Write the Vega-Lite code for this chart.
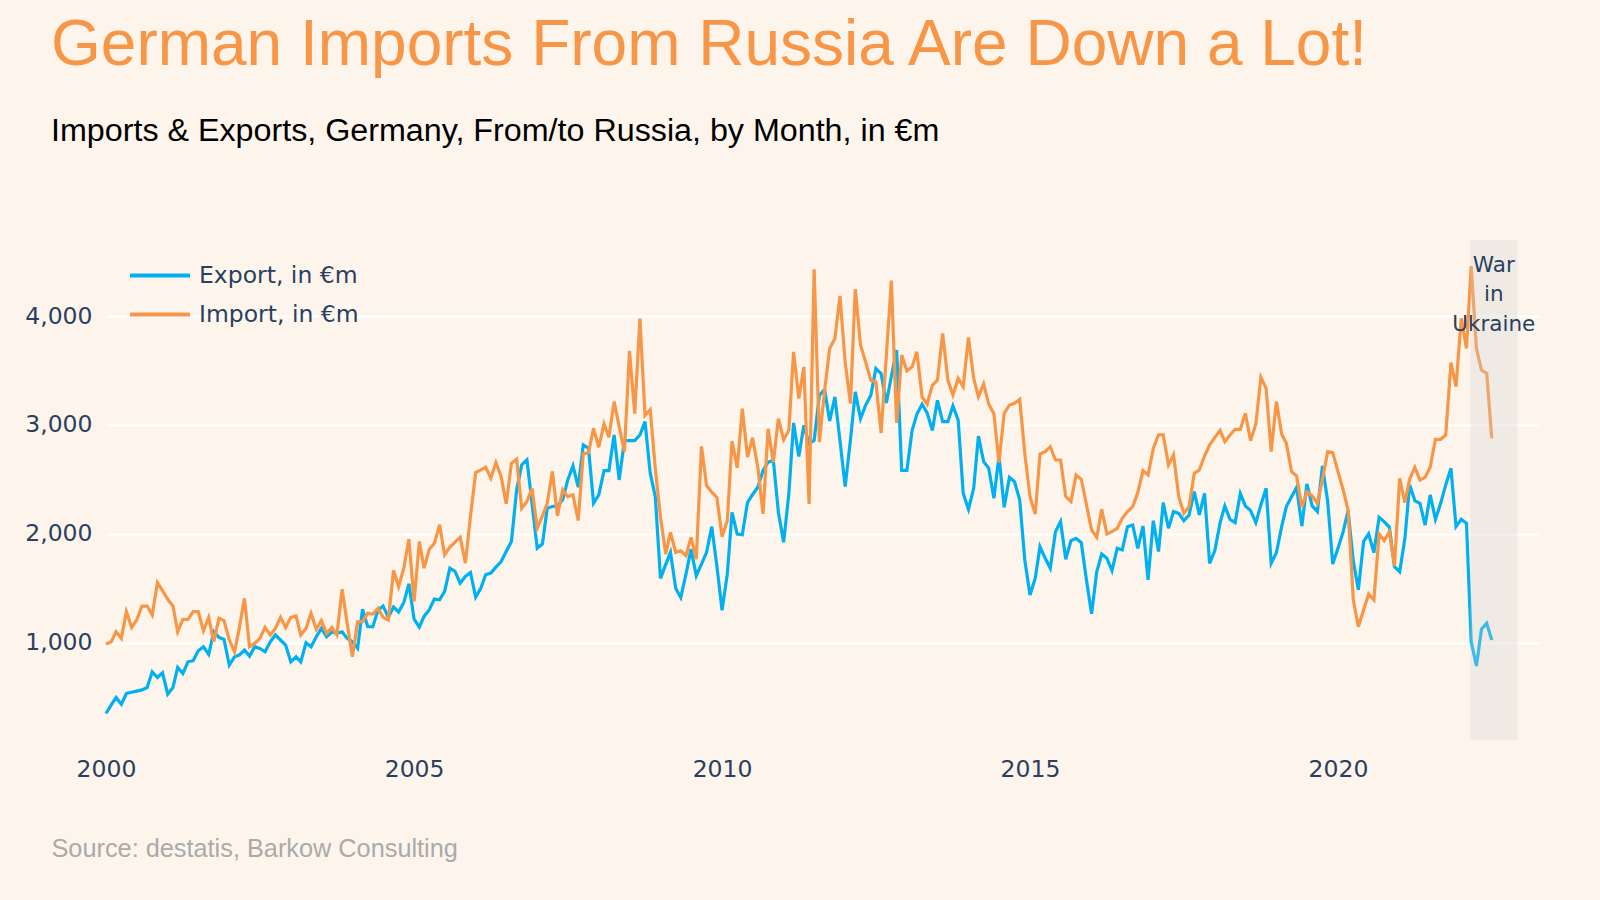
{
"$schema":"https://vega.github.io/schema/vega-lite/v6.json",
"width":1434,"height":500,
"autosize":{"type":"none"},
"padding":{"left":106,"top":240,"right":60,"bottom":160},
"background":"#FDF5EC",
"title":{"text":"German Imports From Russia Are Down a Lot!","subtitle":"Imports & Exports, Germany, From/to Russia, by Month, in €m","anchor":"start","frame":"group","dx":-55,"offset":93,"font":"Liberation Sans","fontSize":64,"fontWeight":"normal","color":"#F79646","subtitleFont":"Liberation Sans","subtitleFontSize":32.25,"subtitleColor":"#000000","subtitlePadding":38},
"config":{"view":{"stroke":null},
 "axis":{"domain":false,"ticks":false,"labelFont":"DejaVu Sans","labelFontSize":23.5,"labelColor":"#2a3f5f","gridColor":"#FFFFFF","gridWidth":2},
 "legend":{"padding":0}},
"datasets":{"trade":[
{"month":"2000-01-01","Export":350,"Import":988},{"month":"2000-02-01","Export":430,"Import":1009},{"month":"2000-03-01","Export":497,"Import":1101},{"month":"2000-04-01","Export":436,"Import":1040},{"month":"2000-05-01","Export":534,"Import":1285},{"month":"2000-06-01","Export":545,"Import":1141},{"month":"2000-07-01","Export":556,"Import":1209},{"month":"2000-08-01","Export":567,"Import":1337},{"month":"2000-09-01","Export":589,"Import":1337},{"month":"2000-10-01","Export":733,"Import":1255},{"month":"2000-11-01","Export":681,"Import":1552},{"month":"2000-12-01","Export":724,"Import":1479},
{"month":"2001-01-01","Export":528,"Import":1399},{"month":"2001-02-01","Export":589,"Import":1337},{"month":"2001-03-01","Export":773,"Import":1101},{"month":"2001-04-01","Export":718,"Import":1215},{"month":"2001-05-01","Export":825,"Import":1215},{"month":"2001-06-01","Export":835,"Import":1285},{"month":"2001-07-01","Export":927,"Import":1285},{"month":"2001-08-01","Export":963,"Import":1110},{"month":"2001-09-01","Export":893,"Import":1233},{"month":"2001-10-01","Export":1101,"Import":1009},{"month":"2001-11-01","Export":1049,"Import":1224},{"month":"2001-12-01","Export":1030,"Import":1203},
{"month":"2002-01-01","Export":795,"Import":1025},{"month":"2002-02-01","Export":871,"Import":917},{"month":"2002-03-01","Export":887,"Import":1132},{"month":"2002-04-01","Export":933,"Import":1408},{"month":"2002-05-01","Export":877,"Import":963},{"month":"2002-06-01","Export":963,"Import":994},{"month":"2002-07-01","Export":948,"Import":1040},{"month":"2002-08-01","Export":917,"Import":1141},{"month":"2002-09-01","Export":1009,"Import":1071},{"month":"2002-10-01","Export":1071,"Import":1132},{"month":"2002-11-01","Export":1025,"Import":1233},{"month":"2002-12-01","Export":979,"Import":1141},
{"month":"2003-01-01","Export":825,"Import":1233},{"month":"2003-02-01","Export":871,"Import":1245},{"month":"2003-03-01","Export":825,"Import":1071},{"month":"2003-04-01","Export":1000,"Import":1132},{"month":"2003-05-01","Export":963,"Import":1270},{"month":"2003-06-01","Export":1055,"Import":1123},{"month":"2003-07-01","Export":1132,"Import":1203},{"month":"2003-08-01","Export":1055,"Import":1086},{"month":"2003-09-01","Export":1101,"Import":1141},{"month":"2003-10-01","Export":1086,"Import":1071},{"month":"2003-11-01","Export":1101,"Import":1491},{"month":"2003-12-01","Export":1040,"Import":1178},
{"month":"2004-01-01","Export":1010,"Import":871},{"month":"2004-02-01","Export":950,"Import":1193},{"month":"2004-03-01","Export":1307,"Import":1193},{"month":"2004-04-01","Export":1147,"Import":1270},{"month":"2004-05-01","Export":1147,"Import":1264},{"month":"2004-06-01","Export":1300,"Import":1316},{"month":"2004-07-01","Export":1338,"Import":1233},{"month":"2004-08-01","Export":1233,"Import":1209},{"month":"2004-09-01","Export":1329,"Import":1663},{"month":"2004-10-01","Export":1282,"Import":1515},{"month":"2004-11-01","Export":1370,"Import":1685},{"month":"2004-12-01","Export":1541,"Import":1951},
{"month":"2005-01-01","Export":1217,"Import":1379},{"month":"2005-02-01","Export":1144,"Import":1930},{"month":"2005-03-01","Export":1242,"Import":1685},{"month":"2005-04-01","Export":1303,"Import":1859},{"month":"2005-05-01","Export":1401,"Import":1914},{"month":"2005-06-01","Export":1395,"Import":2083},{"month":"2005-07-01","Export":1471,"Import":1807},{"month":"2005-08-01","Export":1685,"Import":1878},{"month":"2005-09-01","Export":1654,"Import":1924},{"month":"2005-10-01","Export":1547,"Import":1969},{"month":"2005-11-01","Export":1609,"Import":1731},{"month":"2005-12-01","Export":1645,"Import":2159},
{"month":"2006-01-01","Export":1419,"Import":2563},{"month":"2006-02-01","Export":1502,"Import":2587},{"month":"2006-03-01","Export":1624,"Import":2612},{"month":"2006-04-01","Export":1639,"Import":2511},{"month":"2006-05-01","Export":1694,"Import":2654},{"month":"2006-06-01","Export":1746,"Import":2526},{"month":"2006-07-01","Export":1838,"Import":2275},{"month":"2006-08-01","Export":1930,"Import":2648},{"month":"2006-09-01","Export":2404,"Import":2685},{"month":"2006-10-01","Export":2633,"Import":2235},{"month":"2006-11-01","Export":2679,"Import":2297},{"month":"2006-12-01","Export":2281,"Import":2419},
{"month":"2007-01-01","Export":1869,"Import":2052},{"month":"2007-02-01","Export":1908,"Import":2165},{"month":"2007-03-01","Export":2235,"Import":2281},{"month":"2007-04-01","Export":2251,"Import":2572},{"month":"2007-05-01","Export":2257,"Import":2165},{"month":"2007-06-01","Export":2312,"Import":2404},{"month":"2007-07-01","Export":2495,"Import":2342},{"month":"2007-08-01","Export":2624,"Import":2358},{"month":"2007-09-01","Export":2428,"Import":2122},{"month":"2007-10-01","Export":2816,"Import":2734},{"month":"2007-11-01","Export":2786,"Import":2746},{"month":"2007-12-01","Export":2281,"Import":2969},
{"month":"2008-01-01","Export":2358,"Import":2795},{"month":"2008-02-01","Export":2581,"Import":3009},{"month":"2008-03-01","Export":2581,"Import":2887},{"month":"2008-04-01","Export":2908,"Import":3214},{"month":"2008-05-01","Export":2495,"Import":2985},{"month":"2008-06-01","Export":2856,"Import":2755},{"month":"2008-07-01","Export":2856,"Import":3679},{"month":"2008-08-01","Export":2856,"Import":3103},{"month":"2008-09-01","Export":2908,"Import":3976},{"month":"2008-10-01","Export":3030,"Import":3088},{"month":"2008-11-01","Export":2557,"Import":3140},{"month":"2008-12-01","Export":2342,"Import":2600},
{"month":"2009-01-01","Export":1590,"Import":2152},{"month":"2009-02-01","Export":1720,"Import":1814},{"month":"2009-03-01","Export":1830,"Import":2014},{"month":"2009-04-01","Export":1500,"Import":1830},{"month":"2009-05-01","Export":1415,"Import":1845},{"month":"2009-06-01","Export":1630,"Import":1799},{"month":"2009-07-01","Export":1860,"Import":1968},{"month":"2009-08-01","Export":1615,"Import":1768},{"month":"2009-09-01","Export":1722,"Import":2803},{"month":"2009-10-01","Export":1830,"Import":2443},{"month":"2009-11-01","Export":2066,"Import":2382},{"month":"2009-12-01","Export":1707,"Import":2336},
{"month":"2010-01-01","Export":1298,"Import":1974},{"month":"2010-02-01","Export":1630,"Import":2121},{"month":"2010-03-01","Export":2198,"Import":2852},{"month":"2010-04-01","Export":1998,"Import":2606},{"month":"2010-05-01","Export":1992,"Import":3150},{"month":"2010-06-01","Export":2290,"Import":2704},{"month":"2010-07-01","Export":2361,"Import":2883},{"month":"2010-08-01","Export":2428,"Import":2612},{"month":"2010-09-01","Export":2582,"Import":2183},{"month":"2010-10-01","Export":2658,"Import":2965},{"month":"2010-11-01","Export":2674,"Import":2658},{"month":"2010-12-01","Export":2198,"Import":3057},
{"month":"2011-01-01","Export":1922,"Import":2864},{"month":"2011-02-01","Export":2367,"Import":2950},{"month":"2011-03-01","Export":3018,"Import":3671},{"month":"2011-04-01","Export":2711,"Import":3242},{"month":"2011-05-01","Export":2996,"Import":3533},{"month":"2011-06-01","Export":2827,"Import":2275},{"month":"2011-07-01","Export":2858,"Import":4430},{"month":"2011-08-01","Export":3272,"Import":2843},{"month":"2011-09-01","Export":3325,"Import":3318},{"month":"2011-10-01","Export":3036,"Import":3702},{"month":"2011-11-01","Export":3257,"Import":3794},{"month":"2011-12-01","Export":2858,"Import":4184},
{"month":"2012-01-01","Export":2434,"Import":3579},{"month":"2012-02-01","Export":2858,"Import":3196},{"month":"2012-03-01","Export":3303,"Import":4246},{"month":"2012-04-01","Export":3058,"Import":3733},{"month":"2012-05-01","Export":3180,"Import":3579},{"month":"2012-06-01","Export":3272,"Import":3411},{"month":"2012-07-01","Export":3518,"Import":3395},{"month":"2012-08-01","Export":3472,"Import":2926},{"month":"2012-09-01","Export":3202,"Import":3632},{"month":"2012-10-01","Export":3447,"Import":4325},{"month":"2012-11-01","Export":3687,"Import":3018},{"month":"2012-12-01","Export":2582,"Import":3641},
{"month":"2013-01-01","Export":2582,"Import":3497},{"month":"2013-02-01","Export":2950,"Import":3533},{"month":"2013-03-01","Export":3097,"Import":3671},{"month":"2013-04-01","Export":3190,"Import":3257},{"month":"2013-05-01","Export":3110,"Import":3190},{"month":"2013-06-01","Export":2950,"Import":3364},{"month":"2013-07-01","Export":3226,"Import":3411},{"month":"2013-08-01","Export":3030,"Import":3841},{"month":"2013-09-01","Export":3030,"Import":3412},{"month":"2013-10-01","Export":3174,"Import":3275},{"month":"2013-11-01","Export":3045,"Import":3428},{"month":"2013-12-01","Export":2372,"Import":3351},
{"month":"2014-01-01","Export":2225,"Import":3804},{"month":"2014-02-01","Export":2418,"Import":3428},{"month":"2014-03-01","Export":2898,"Import":3259},{"month":"2014-04-01","Export":2663,"Import":3376},{"month":"2014-05-01","Export":2602,"Import":3192},{"month":"2014-06-01","Export":2326,"Import":3100},{"month":"2014-07-01","Export":2715,"Import":2654},{"month":"2014-08-01","Export":2244,"Import":3106},{"month":"2014-09-01","Export":2519,"Import":3183},{"month":"2014-10-01","Export":2479,"Import":3198},{"month":"2014-11-01","Export":2311,"Import":3235},{"month":"2014-12-01","Export":1760,"Import":2739},
{"month":"2015-01-01","Export":1439,"Import":2342},{"month":"2015-02-01","Export":1592,"Import":2182},{"month":"2015-03-01","Export":1882,"Import":2733},{"month":"2015-04-01","Export":1775,"Import":2755},{"month":"2015-05-01","Export":1684,"Import":2800},{"month":"2015-06-01","Export":2020,"Import":2678},{"month":"2015-07-01","Export":2112,"Import":2678},{"month":"2015-08-01","Export":1766,"Import":2342},{"month":"2015-09-01","Export":1938,"Import":2296},{"month":"2015-10-01","Export":1959,"Import":2540},{"month":"2015-11-01","Export":1919,"Import":2501},{"month":"2015-12-01","Export":1583,"Import":2274},
{"month":"2016-01-01","Export":1265,"Import":2035},{"month":"2016-02-01","Export":1653,"Import":1968},{"month":"2016-03-01","Export":1815,"Import":2225},{"month":"2016-04-01","Export":1775,"Import":1999},{"month":"2016-05-01","Export":1662,"Import":2020},{"month":"2016-06-01","Export":1867,"Import":2051},{"month":"2016-07-01","Export":1852,"Import":2143},{"month":"2016-08-01","Export":2066,"Import":2204},{"month":"2016-09-01","Export":2081,"Import":2250},{"month":"2016-10-01","Export":1867,"Import":2378},{"month":"2016-11-01","Export":2072,"Import":2580},{"month":"2016-12-01","Export":1577,"Import":2540},
{"month":"2017-01-01","Export":2121,"Import":2785},{"month":"2017-02-01","Export":1837,"Import":2908},{"month":"2017-03-01","Export":2286,"Import":2908},{"month":"2017-04-01","Export":2051,"Import":2632},{"month":"2017-05-01","Export":2204,"Import":2724},{"month":"2017-06-01","Export":2188,"Import":2342},{"month":"2017-07-01","Export":2121,"Import":2188},{"month":"2017-08-01","Export":2173,"Import":2250},{"month":"2017-09-01","Export":2387,"Import":2556},{"month":"2017-10-01","Export":2173,"Import":2586},{"month":"2017-11-01","Export":2372,"Import":2715},{"month":"2017-12-01","Export":1729,"Import":2816},
{"month":"2018-01-01","Export":1846,"Import":2886},{"month":"2018-02-01","Export":2100,"Import":2950},{"month":"2018-03-01","Export":2256,"Import":2846},{"month":"2018-04-01","Export":2133,"Import":2908},{"month":"2018-05-01","Export":2103,"Import":2960},{"month":"2018-06-01","Export":2370,"Import":2960},{"month":"2018-07-01","Export":2256,"Import":3106},{"month":"2018-08-01","Export":2213,"Import":2856},{"month":"2018-09-01","Export":2103,"Import":3009},{"month":"2018-10-01","Export":2265,"Import":3437},{"month":"2018-11-01","Export":2418,"Import":3336},{"month":"2018-12-01","Export":1730,"Import":2755},
{"month":"2019-01-01","Export":1827,"Import":3214},{"month":"2019-02-01","Export":2066,"Import":2917},{"month":"2019-03-01","Export":2250,"Import":2831},{"month":"2019-04-01","Export":2341,"Import":2571},{"month":"2019-05-01","Export":2427,"Import":2531},{"month":"2019-06-01","Export":2072,"Import":2244},{"month":"2019-07-01","Export":2458,"Import":2387},{"month":"2019-08-01","Export":2256,"Import":2348},{"month":"2019-09-01","Export":2204,"Import":2280},{"month":"2019-10-01","Export":2623,"Import":2501},{"month":"2019-11-01","Export":2300,"Import":2755},{"month":"2019-12-01","Export":1723,"Import":2745},
{"month":"2020-01-01","Export":1867,"Import":2571},{"month":"2020-02-01","Export":2020,"Import":2403},{"month":"2020-03-01","Export":2213,"Import":2219},{"month":"2020-04-01","Export":1750,"Import":1393},{"month":"2020-05-01","Export":1485,"Import":1148},{"month":"2020-06-01","Export":1928,"Import":1301},{"month":"2020-07-01","Export":1999,"Import":1448},{"month":"2020-08-01","Export":1827,"Import":1393},{"month":"2020-09-01","Export":2152,"Import":1999},{"month":"2020-10-01","Export":2112,"Import":1938},{"month":"2020-11-01","Export":2060,"Import":2020},{"month":"2020-12-01","Export":1699,"Import":1705},
{"month":"2021-01-01","Export":1653,"Import":2510},{"month":"2021-02-01","Export":1959,"Import":2286},{"month":"2021-03-01","Export":2449,"Import":2501},{"month":"2021-04-01","Export":2305,"Import":2611},{"month":"2021-05-01","Export":2280,"Import":2494},{"month":"2021-06-01","Export":2081,"Import":2519},{"month":"2021-07-01","Export":2357,"Import":2611},{"month":"2021-08-01","Export":2133,"Import":2868},{"month":"2021-09-01","Export":2280,"Import":2868},{"month":"2021-10-01","Export":2449,"Import":2908},{"month":"2021-11-01","Export":2602,"Import":3572},{"month":"2021-12-01","Export":2066,"Import":3351},
{"month":"2022-01-01","Export":2133,"Import":3979},{"month":"2022-02-01","Export":2097,"Import":3703},{"month":"2022-03-01","Export":1010,"Import":4459},{"month":"2022-04-01","Export":787,"Import":3703},{"month":"2022-05-01","Export":1124,"Import":3504},{"month":"2022-06-01","Export":1179,"Import":3474},{"month":"2022-07-01","Export":1026,"Import":2877}
]},
"layer":[
{"data":{"name":"trade"},
 "transform":[{"fold":["Export","Import"],"as":["series","value"]}],
 "mark":{"type":"line","strokeWidth":3.2},
 "encoding":{
  "x":{"field":"month","type":"temporal","scale":{"type":"utc","domain":[{"year":2000,"month":1,"date":1,"utc":true},{"year":2023,"month":4,"date":13,"utc":true}]},
   "axis":{"grid":false,"labelFlush":false,"values":[{"year":2000,"month":1,"date":1,"utc":true},{"year":2005,"month":1,"date":1,"utc":true},{"year":2010,"month":1,"date":1,"utc":true},{"year":2015,"month":1,"date":1,"utc":true},{"year":2020,"month":1,"date":1,"utc":true}],"format":"%Y","labelPadding":17,
    "title":"Source: destatis, Barkow Consulting","titleFont":"Liberation Sans","titleFontSize":25.3,"titleFontWeight":"normal","titleColor":"#AAAAAA","titleX":-55,"titleY":116,"titleAlign":"left","titleBaseline":"alphabetic","titleAnchor":"start"}},
  "y":{"field":"value","type":"quantitative","scale":{"domain":[107,4698],"nice":false,"zero":false},
   "axis":{"title":null,"values":[1000,2000,3000,4000],"format":",.0f","labelPadding":14,"grid":true}},
  "color":{"field":"series","type":"nominal","scale":{"domain":["Export","Import"],"range":["#00B0F0","#F79646"]},
   "legend":{"title":null,"orient":"none","legendX":22,"legendY":17,"symbolType":"stroke","symbolSize":3600,"symbolStrokeWidth":4,"labelFont":"DejaVu Sans","labelFontSize":23.5,"labelColor":"#2a3f5f","labelOffset":7,"clipHeight":37,"rowPadding":2,"labelExpr":"datum.label + ', in €m'"}}
 }},
{"data":{"values":[{"start":"2022-02-24","end":"2022-12-01"}]},
 "mark":{"type":"rect","fill":"#D0D0D0","opacity":0.3},
 "encoding":{"x":{"field":"start","type":"temporal"},"x2":{"field":"end"}}},
{"data":{"values":[{"date":"2022-07-13","level":4460,"label":"War\nin\nUkraine"}]},
 "mark":{"type":"text","lineBreak":"\n","lineHeight":29.5,"font":"DejaVu Sans","fontSize":21.5,"color":"#2a3f5f","align":"center","baseline":"middle"},
 "encoding":{"x":{"field":"date","type":"temporal"},"y":{"field":"level","type":"quantitative"},"text":{"field":"label"}}}
]
}
